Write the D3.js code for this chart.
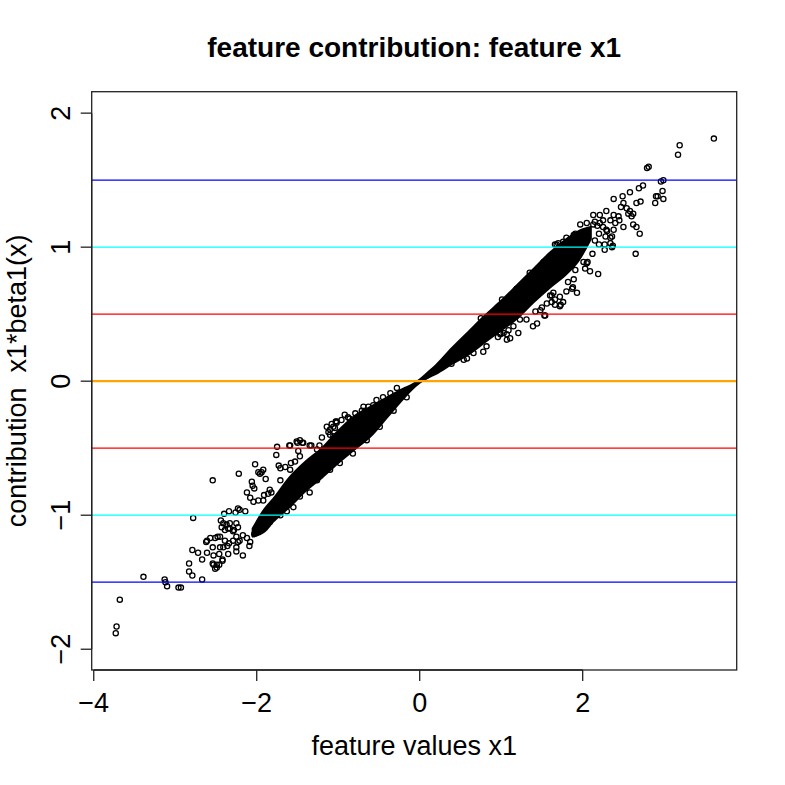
<!DOCTYPE html>
<html>
<head>
<meta charset="utf-8">
<script src="https://cdnjs.cloudflare.com/ajax/libs/d3/7.8.5/d3.min.js"></script>
<style>
  body { margin: 0; background: #fff; }
  text { font-family: "Liberation Sans", Arial, Helvetica, sans-serif; fill: #000; }
</style>
</head>
<body>
<script>
var titleText = 'feature contribution: feature x1';
var xLabel = 'feature values x1';
var yLabel = 'contribution  x1*beta1(x)';

var xTicks = [-4, -2, 0, 2];
var yTicks = [-2, -1, 0, 1, 2];
var refLevels = [1.5, 1, 0.5, 0, -0.5, -1, -1.5];

// dense core of the cloud (upper / lower edge at each x)
var bandX    = [-2.05, -1.9, -1.8, -1.6, -1.4, -1.2, -1.0, -0.8, -0.6, -0.4, -0.2, -0.1, 0, 0.1, 0.2, 0.4, 0.6, 0.8, 1.0, 1.2, 1.4, 1.6, 1.8, 1.95, 2.1];
var bandHigh = [-1.1, -0.95, -0.88, -0.72, -0.6, -0.5, -0.37, -0.26, -0.19, -0.12, -0.055, -0.028, 0.012, 0.065, 0.12, 0.25, 0.37, 0.49, 0.6, 0.72, 0.84, 0.96, 1.06, 1.12, 1.15];
var bandLow  = [-1.16, -1.12, -1.05, -0.94, -0.82, -0.72, -0.61, -0.51, -0.41, -0.27, -0.13, -0.065, -0.012, 0.025, 0.055, 0.13, 0.2, 0.29, 0.38, 0.47, 0.59, 0.7, 0.8, 0.9, 1.06];

// single points (tails, scatter, and the ragged edge of the core)
var pointX = [
  -3.73, -3.72, -3.68, -3.39, -3.13, -3.12, -3.10, -2.96, -2.93, -2.83, -2.83, -2.79, -2.67, -2.54, -2.53, -2.49, -2.46, -2.42, -2.67, -2.51, -2.42,
  -2.54, -2.22, -2.78, -2.40, -2.34, -2.26, -2.23, -2.44, -2.41, -2.37, -2.33, -2.28, -2.23, -2.25, -2.62, -2.57, -2.51, -2.45, -2.39, -2.34, -2.29, -2.23,
  -2.79, -2.72, -2.61, -2.54, -2.53, -2.46, -2.41, -2.35, -2.25, -2.25,
  -2.02, -1.98, -1.96, -1.94, -1.89, -1.75, -1.76, -1.60, -1.73, -1.71, -1.65, -1.58, -1.53, -1.50, -1.43, -1.35, -1.49, -2.06, -2.05, -2.03, -2.12, -2.08,
  -2.04, -1.98, -1.91, -1.86, -1.82, -2.21, -2.14, -2.43, -2.39, -2.35, -2.33, -2.29, -2.25, -2.21, -2.17, -2.12, -2.08, -2.03, -1.98, -1.94, -1.88, -1.84,
  -2.61, -2.48, -2.36, -2.17, -2.09, -2.45, -2.49,
  -1.59, -1.51, -1.47, -1.44, -1.33, -1.23, -1.20, -1.14, -1.12, -1.08, -1.03, -1.10, -1.06, -1.92,
  -0.69, -0.67, -0.57, -0.53, -0.61, -0.86, -1.02, -1.04, -0.92,
  0.78, 0.66, 0.58, 1.03, 1.07, 0.96,
  1.91, 1.82, 1.88, 1.89, 1.72, 1.76, 1.62, 1.62, 1.72, 1.66, 1.50, 1.54, 1.42, 1.44, 1.39, 1.23, 1.21, 1.09, 1.11, 1.07, 0.95, 0.99, 0.75, 1.01,
  2.01, 2.05, 1.80, 1.78, 2.27, 2.36,
  3.61, 3.19, 3.17, 2.79, 2.81, 2.96, 2.99, 2.98, 2.90, 2.92, 2.99, 2.89, 2.69, 2.74, 2.58, 2.38, 2.66, 2.71, 2.49, 2.50, 2.47, 2.54, 2.58, 2.62, 2.60, 2.56,
  2.29, 2.38, 2.34, 2.44, 2.50, 2.62, 2.66, 2.70, 2.65, 2.38, 2.34, 2.27, 2.37, 2.19, 2.09, 2.03, 2.06, 1.93, 1.87, 1.73, 1.60, 1.64, 1.53,
  2.13, 2.21, 2.15, 1.66, 1.70, 1.89, 2.15, 2.20, 2.25, 2.30, 2.12, 2.20, 2.18, 2.25, 2.40, 2.45, 2.28,
  1.19, 1.27, 1.35, 1.44, 1.52, 1.60, 1.68, 1.76, 1.91, 1.97, 2.05, 2.13, 2.21, 2.29, 2.36, 2.34,
  0.99, 1.15, 1.31, 1.48, 1.23, 1.56, 1.66, 1.80, 0.82, 0.66, 0.54, 0.39,
  -0.63, -0.71, -0.79, -0.88, -0.96, -1.02, -1.06, -1.10, -0.36, -0.45, -0.28, -1.47, -1.59, -1.71, -1.84, -1.92, -1.26,
  -0.16, -0.32, -0.49, -0.65, -0.82, -0.98, -1.10, -1.26, -1.35, -1.47, -1.55, -1.63, -1.71
];
var pointY = [
  -1.88, -1.83, -1.63, -1.46, -1.48, -1.50, -1.53, -1.54, -1.54, -1.36, -1.42, -1.45, -1.48, -1.36, -1.37, -1.39, -1.37, -1.34, -1.33, -1.40, -1.33,
  -0.74, -0.69, -1.02, -0.99, -0.97, -0.98, -0.95, -1.04, -1.06, -1.07, -1.10, -1.11, -1.09, -1.06, -1.20, -1.17, -1.17, -1.16, -1.19, -1.21, -1.19, -1.20,
  -1.26, -1.28, -1.28, -1.24, -1.30, -1.29, -1.24, -1.29, -1.24, -1.27,
  -0.62, -0.68, -0.69, -0.68, -0.73, -0.49, -0.55, -0.48, -0.63, -0.65, -0.64, -0.61, -0.60, -0.46, -0.46, -0.48, -0.52, -0.75, -0.78, -0.80, -0.83, -0.87,
  -0.90, -0.89, -0.85, -0.84, -0.83, -0.96, -0.97, -1.09, -1.11, -1.10, -1.06, -1.12, -1.16, -1.19, -1.15, -1.17, -1.20, -1.14, -1.10, -1.07, -1.04, -1.05,
  -1.19, -1.16, -1.23, -1.30, -1.23, -1.24, -1.37,
  -0.48, -0.45, -0.44, -0.46, -0.48, -0.48, -0.42, -0.34, -0.38, -0.32, -0.30, -0.40, -0.41, -0.66,
  -0.19, -0.22, -0.18, -0.14, -0.24, -0.28, -0.30, -0.35, -0.25,
  0.22, 0.26, 0.17, 0.36, 0.31, 0.33,
  0.83, 0.74, 0.70, 0.76, 0.63, 0.59, 0.64, 0.59, 0.56, 0.57, 0.55, 0.49, 0.52, 0.43, 0.41, 0.46, 0.36, 0.38, 0.32, 0.35, 0.38, 0.36, 0.47, 0.61,
  0.89, 0.88, 1.07, 1.02, 0.98, 1.00,
  1.81, 1.76, 1.69, 1.59, 1.60, 1.49, 1.50, 1.42, 1.38, 1.38, 1.36, 1.33, 1.44, 1.46, 1.41, 1.36, 1.33, 1.34, 1.38, 1.33, 1.30, 1.29, 1.27, 1.25, 1.23, 1.25,
  1.27, 1.24, 1.20, 1.23, 1.15, 1.17, 1.15, 1.10, 0.95, 1.13, 1.07, 1.02, 1.01, 0.80, 0.82, 0.84, 0.89, 0.66, 0.69, 0.57, 0.64, 0.66, 0.49,
  1.24, 1.24, 1.19, 1.02, 1.03, 1.09, 1.05, 1.10, 1.15, 1.12, 0.95, 1.02, 1.16, 1.20, 1.18, 1.20, 1.08,
  0.69, 0.72, 0.81, 0.83, 0.89, 0.93, 1.02, 1.04, 1.10, 1.17, 1.18, 1.17, 1.18, 1.13, 1.08, 1.03,
  0.35, 0.41, 0.46, 0.53, 0.53, 0.58, 0.61, 0.67, 0.26, 0.21, 0.16, 0.13,
  -0.19, -0.22, -0.24, -0.27, -0.29, -0.31, -0.34, -0.36, -0.09, -0.12, -0.05, -0.56, -0.66, -0.74, -0.81, -0.89, -0.51,
  -0.12, -0.22, -0.34, -0.44, -0.54, -0.61, -0.66, -0.74, -0.83, -0.86, -0.94, -0.97, -1.00
];

var width = 785, height = 785;
var plot = { left: 91.7, right: 736.7, top: 91.7, bottom: 670 };

var x = d3.scaleLinear().domain([-4.025, 3.89]).range([plot.left, plot.right]);
var y = d3.scaleLinear().domain([-2.155, 2.16]).range([plot.bottom, plot.top]);

var lineColor = { '1.5': '#0000ff', '1': '#00ffff', '0.5': '#ff0000', '0': '#ffa500' };

var svg = d3.select('body').append('svg')
  .attr('width', width)
  .attr('height', height);

svg.append('rect')
  .attr('width', width)
  .attr('height', height)
  .style('fill', 'white');

svg.append('clipPath').attr('id', 'plotclip')
  .append('rect')
  .attr('x', plot.left)
  .attr('y', plot.top)
  .attr('width', plot.right - plot.left)
  .attr('height', plot.bottom - plot.top);

var inner = svg.append('g').attr('clip-path', 'url(#plotclip)');

// the cloud: solid core first, then every single point on top
var band = bandX.map(function(v, i) {
  return { x: v, hi: bandHigh[i], lo: bandLow[i] };
});
inner.append('path')
  .datum(band)
  .attr('d', d3.area()
    .curve(d3.curveMonotoneX)
    .x(function(d) { return x(d.x); })
    .y0(function(d) { return y(d.lo); })
    .y1(function(d) { return y(d.hi); }))
  .style('fill', 'black')
  .style('stroke', 'black')
  .style('stroke-width', 2)
  .style('stroke-linejoin', 'round');

inner.selectAll('circle.pt')
  .data(pointX.map(function(v, i) { return [v, pointY[i]]; }))
  .enter().append('circle')
  .attr('class', 'pt')
  .attr('cx', function(d) { return x(d[0]); })
  .attr('cy', function(d) { return y(d[1]); })
  .attr('r', 2.6)
  .style('fill', 'none')
  .style('stroke', 'black')
  .style('stroke-width', 1.3);

// reference lines drawn over the points
inner.selectAll('line.ref')
  .data(refLevels)
  .enter().append('line')
  .attr('class', 'ref')
  .attr('x1', plot.left)
  .attr('x2', plot.right)
  .attr('y1', function(d) { return y(d); })
  .attr('y2', function(d) { return y(d); })
  .style('stroke', function(d) { return lineColor[String(Math.abs(d))]; })
  .style('stroke-width', function(d) { return d === 0 ? 2.2 : 1.3; });

// box
svg.append('rect')
  .attr('x', plot.left)
  .attr('y', plot.top)
  .attr('width', plot.right - plot.left)
  .attr('height', plot.bottom - plot.top)
  .style('fill', 'none')
  .style('stroke', '#222')
  .style('stroke-width', 1.3);

// x axis
var xAxis = svg.append('g');
xAxis.append('line')
  .attr('x1', x(xTicks[0])).attr('x2', x(xTicks[xTicks.length - 1]))
  .attr('y1', plot.bottom).attr('y2', plot.bottom)
  .style('stroke', '#222').style('stroke-width', 1.3);
xAxis.selectAll('line.tick')
  .data(xTicks)
  .enter().append('line')
  .attr('class', 'tick')
  .attr('x1', function(d) { return x(d); })
  .attr('x2', function(d) { return x(d); })
  .attr('y1', plot.bottom)
  .attr('y2', plot.bottom + 11)
  .style('stroke', '#222').style('stroke-width', 1.3);
xAxis.selectAll('text')
  .data(xTicks)
  .enter().append('text')
  .attr('x', function(d) { return x(d); })
  .attr('y', 712)
  .attr('text-anchor', 'middle')
  .style('font-size', '27px')
  .text(function(d) { return d < 0 ? '\u2212' + Math.abs(d) : d; });

// y axis
var yAxis = svg.append('g');
yAxis.append('line')
  .attr('x1', plot.left).attr('x2', plot.left)
  .attr('y1', y(yTicks[0])).attr('y2', y(yTicks[yTicks.length - 1]))
  .style('stroke', '#222').style('stroke-width', 1.3);
yAxis.selectAll('line.tick')
  .data(yTicks)
  .enter().append('line')
  .attr('class', 'tick')
  .attr('x1', plot.left - 11)
  .attr('x2', plot.left)
  .attr('y1', function(d) { return y(d); })
  .attr('y2', function(d) { return y(d); })
  .style('stroke', '#222').style('stroke-width', 1.3);
yAxis.selectAll('text')
  .data(yTicks)
  .enter().append('text')
  .attr('transform', function(d) { return 'translate(70,' + y(d) + ') rotate(-90)'; })
  .attr('text-anchor', 'middle')
  .style('font-size', '27px')
  .text(function(d) { return d < 0 ? '\u2212' + Math.abs(d) : d; });

// titles
svg.append('text')
  .attr('x', (plot.left + plot.right) / 2)
  .attr('y', 57)
  .attr('text-anchor', 'middle')
  .style('font-size', '28px')
  .style('font-weight', 'bold')
  .text(titleText);

svg.append('text')
  .attr('x', (plot.left + plot.right) / 2)
  .attr('y', 755)
  .attr('text-anchor', 'middle')
  .style('font-size', '27px')
  .text(xLabel);

svg.append('text')
  .attr('transform', 'translate(26,' + (plot.top + plot.bottom) / 2 + ') rotate(-90)')
  .attr('text-anchor', 'middle')
  .style('font-size', '27px')
  .style('white-space', 'pre')
  .text(yLabel);
</script>
</body>
</html>
